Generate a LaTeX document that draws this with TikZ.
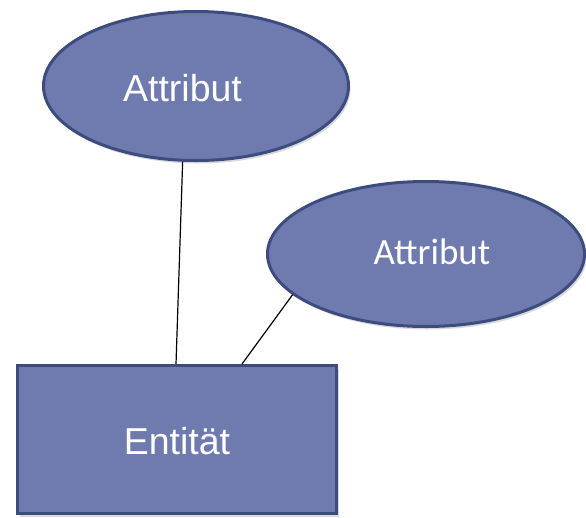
\documentclass[tikz,border=0pt]{standalone}
\usepackage{fontspec}
\setmainfont{Liberation Sans}
\newfontfamily\carl{Carlito}
\usetikzlibrary{shapes.geometric,shadows}
\definecolor{fillblue}{HTML}{6F7BAE}
\definecolor{edgeblue}{HTML}{3D4C7F}
\begin{document}
\begin{tikzpicture}[x=1pt,y=-1pt,
  shp/.style={draw=edgeblue, fill=fillblue, line width=3pt, inner sep=0pt,
    drop shadow={opacity=0.3, shadow xshift=2pt, shadow yshift=-3pt}},
  ell/.style={shp, ellipse},
  lbl/.style={text=white, font=\fontsize{37.5}{41}\selectfont, inner sep=0pt},
  conn/.style={draw=black, line width=1.2pt}]
\useasboundingbox (0,0) rectangle (586,517);
\node[ell, minimum width=305pt, minimum height=149pt] (a1) at (196,86) {};
\node[ell, minimum width=317pt, minimum height=145pt] (a2) at (426,254) {};
\node[shp, rectangle, minimum width=319pt, minimum height=148pt] (e) at (177,439.5) {};
\node[lbl] (t1) at (182.5,88) {Attribut};
\node[lbl, font=\carl\fontsize{37}{41}\selectfont] (t2) at (432,252) {Attribut};
\node[lbl] (t3) at (177,441) {Entität};
\draw[conn] (a1.260) -- ([xshift=-1pt]e.north);
\draw[conn] (a2.197) -- ([xshift=65pt]e.north);
\end{tikzpicture}
\end{document}
